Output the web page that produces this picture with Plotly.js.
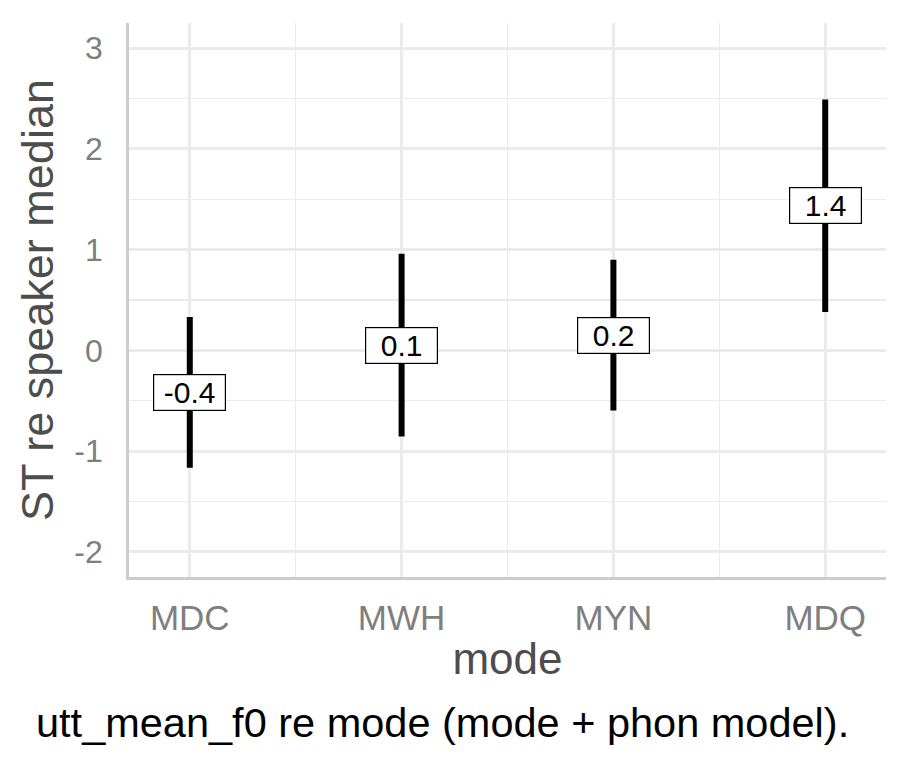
<!DOCTYPE html>
<html>
<head>
<meta charset="utf-8">
<script src="https://cdn.plot.ly/plotly-3.0.1.min.js"></script>
<style>html,body{margin:0;padding:0;background:#fff;}</style>
</head>
<body>
<div id="chart" style="width:909px;height:767px;"></div>
<script>
// Data
const categories = ['MDC', 'MWH', 'MYN', 'MDQ'];
const estimates = [-0.42, 0.05, 0.15, 1.44];
const lower = [-1.165, -0.854, -0.596, 0.38];
const upper = [0.33, 0.96, 0.90, 2.49];
const labels = ['-0.4', '0.1', '0.2', '1.4'];
const yTicks = [-2, -1, 0, 1, 2, 3];
const yMinor = [-1.5, -0.5, 0.5, 1.5, 2.5];
const captionText = 'utt_mean_f0 re mode (mode + phon model).';

const FONT = 'Liberation Sans, Arial, Helvetica, sans-serif';
const idx = categories.map((c, i) => i);
const xMinor = idx.slice(0, -1).map(i => i + 0.5);

const trace = {
  type: 'scatter',
  mode: 'markers',
  x: idx,
  y: estimates,
  marker: {size: 1, color: 'rgba(0,0,0,0)'},
  error_y: {
    type: 'data',
    symmetric: false,
    array: upper.map((u, i) => u - estimates[i]),
    arrayminus: lower.map((l, i) => estimates[i] - l),
    thickness: 6,
    width: 0,
    color: '#000'
  },
  hoverinfo: 'skip',
  showlegend: false
};

const annotations = idx.map(i => ({
  x: i, y: estimates[i], xref: 'x', yref: 'y',
  text: labels[i], showarrow: false,
  font: {family: FONT, size: 30, color: '#000'},
  bgcolor: '#fff', bordercolor: '#000', borderwidth: 1.2,
  borderpad: 0, width: 71, height: 35,
  xanchor: 'center', yanchor: 'middle'
}));

annotations.push({
  text: captionText, showarrow: false,
  xref: 'paper', yref: 'paper',
  x: (33 - 128.5) / 757.5, y: (576.7 - 722) / 554,
  xanchor: 'left', yanchor: 'middle',
  font: {family: FONT, size: 41.5, color: '#000'}
});

const gridColor = '#ebebeb';

const layout = {
  width: 909, height: 767,
  margin: {l: 128.5, r: 23, t: 22.7, b: 190.3},
  paper_bgcolor: '#fff', plot_bgcolor: '#fff',
  font: {family: FONT},
  showlegend: false,
  xaxis: {
    range: [-0.287, 3.287],
    tickmode: 'array', tickvals: idx, ticktext: categories,
    tickfont: {family: FONT, size: 35, color: '#7f7f7f'},
    ticks: '', ticklabelstandoff: 8,
    showgrid: true, gridcolor: gridColor, gridwidth: 3,
    minor: {tickmode: 'array', tickvals: xMinor, showgrid: true, gridcolor: gridColor, gridwidth: 1.5, ticks: ''},
    zeroline: false,
    showline: true, linecolor: '#cccccc', linewidth: 2.8,
    title: {text: 'mode', font: {family: FONT, size: 44, color: '#4d4d4d'}, standoff: 8},
    automargin: false, fixedrange: true
  },
  yaxis: {
    range: [-2.25, 3.25],
    tickmode: 'array', tickvals: yTicks, ticktext: yTicks.map(String),
    tickfont: {family: FONT, size: 32, color: '#7f7f7f'},
    ticks: '', ticklabelstandoff: 17,
    showgrid: true, gridcolor: gridColor, gridwidth: 3,
    minor: {tickmode: 'array', tickvals: yMinor, showgrid: true, gridcolor: gridColor, gridwidth: 1.5, ticks: ''},
    zeroline: false,
    showline: true, linecolor: '#cccccc', linewidth: 2.8,
    title: {text: 'ST re speaker median', font: {family: FONT, size: 45, color: '#4d4d4d'}, standoff: 7},
    automargin: false, fixedrange: true
  },
  annotations: annotations
};

Plotly.newPlot('chart', [trace], layout, {displayModeBar: false, staticPlot: true});
</script>
</body>
</html>
